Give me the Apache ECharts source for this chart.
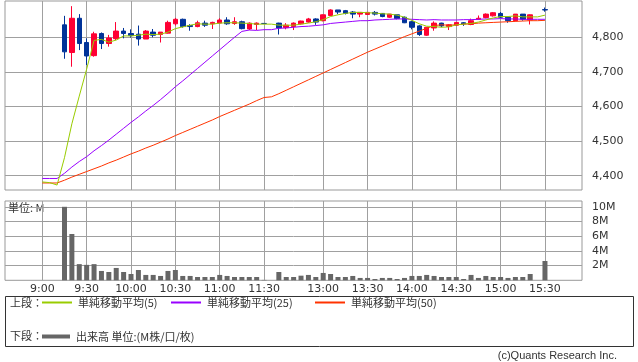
<!DOCTYPE html>
<html><head><meta charset="utf-8">
<script src="https://cdn.jsdelivr.net/npm/echarts@6/dist/echarts.min.js"></script>
<style>html,body{margin:0;padding:0;background:#fff}#c{width:638px;height:362px}</style>
</head><body><div id="c"></div>
<script>
// slot index: 0 = 9:00, 5-minute steps, 31 = lunch gap, 32 = 12:30, 68 = 15:30
const tickIdx = [0, 6, 12, 18, 24, 30, 38, 44, 50, 56, 62, 68];
const tickLabels = ['9:00','9:30','10:00','10:30','11:00','11:30','13:00','13:30','14:00','14:30','15:00','15:30'];
const priceTicks = [4400, 4500, 4600, 4700, 4800];
const volTicks = [2, 4, 6, 8, 10];

const opens = [null,null,null,
 4836,4756,4855,4785,4747,4811,4782,4796,4818,4811,4809,4795,4815,4808,4812,4839,4852,4834,4831,4841,4839,4841,4850,4840,4845,4824,4837,4840,
 null,
 4841,4828,4831,4839,4844,4853,4848,4863,4879,4877,4873,4867,4866,4872,4869,4858,4865,4858,4845,4833,4806,4827,4841,4831,4835,4842,4837,4852,4857,4862,4869,4858,4848,4867,4850,
 null,4880];
const closes = [null,null,null,
 4758,4855,4782,4746,4810,4782,4798,4818,4811,4805,4795,4818,4806,4815,4843,4852,4831,4831,4842,4835,4843,4850,4839,4845,4825,4841,4841,4840,
 null,
 4827,4835,4841,4847,4853,4844,4865,4879,4873,4869,4867,4872,4872,4867,4860,4867,4854,4842,4829,4808,4829,4841,4833,4836,4843,4839,4848,4855,4867,4871,4858,4848,4867,4852,4865,
 null,4879];
const lows = [null,null,null,
 4738,4715,4763,4720,4744,4766,4773,4792,4797,4799,4776,4795,4800,4785,4811,4834,4828,4819,4829,4830,4824,4840,4836,4836,4823,4821,4821,4840,
 null,
 4808,4823,4821,4837,4842,4836,4846,4862,4867,4866,4855,4858,4866,4863,4858,4856,4852,4841,4823,4804,4804,4819,4829,4821,4833,4833,4835,4852,4855,4860,4856,4842,4846,4848,4837,
 null,4874];
const highs = [null,null,null,
 4862,4890,4867,4797,4816,4814,4807,4844,4827,4823,4834,4821,4824,4815,4848,4856,4854,4838,4848,4848,4845,4855,4858,4858,4848,4843,4843,4840,
 null,
 4842,4841,4843,4848,4856,4855,4866,4881,4879,4879,4876,4872,4872,4876,4869,4867,4865,4860,4848,4835,4829,4846,4842,4838,4844,4844,4854,4863,4869,4873,4873,4860,4867,4867,4866,
 null,4886];
const volumes = [null,null,null,
 10.0,6.3,2.2,2.1,2.2,1.27,1.13,1.68,1.13,0.86,1.4,0.73,0.73,0.59,1.27,1.4,0.59,0.59,0.45,0.45,0.45,0.73,0.59,0.45,0.45,0.45,0.45,0.05,
 null,
 1.13,0.45,0.45,0.63,0.73,0.45,1.0,0.86,0.45,0.45,0.59,0.32,0.32,0.18,0.32,0.32,0.18,0.32,0.59,0.59,0.73,0.59,0.45,0.45,0.45,0.18,0.73,0.32,0.59,0.45,0.45,0.32,0.45,0.45,0.86,
 null,2.63];
const ma5 = [4382,4380,4373,
 4452,4550,4630,4708,4791,4794,4786,4792,4804,4804,4806,4809,4808,4809,4815,4825,4830,4835,4839,4838,4838,4841,4842,4842,4841,4840,4838,4838,
 4838,
 4835,4835,4835,4838,4841,4845,4851,4860,4865,4869,4872,4872,4871,4870,4868,4867,4864,4858,4849,4839,4832,4831,4829,4830,4836,4838,4840,4844,4850,4856,4860,4860,4862,4859,4859,
 4859,4864];
const ma25 = [4392,4392,4392,
 4407,4425,4441,4455,4472,4487,4503,4520,4537,4554,4570,4587,4603,4620,4638,4657,4674,4692,4710,4728,4746,4764,4782,4800,4817,4821,4820,4822,
 4822,
 4826,4827,4829,4831,4832,4834,4836,4840,4842,4844,4846,4848,4848,4850,4851,4852,4853,4853,4852,4851,4850,4851,4850,4850,4850,4851,4851,4852,4853,4853,4854,4853,4853,4852,4852,
 4852,4852];
const ma50 = [4379,4379,4379,
 4387,4396,4404,4412,4420,4428,4437,4445,4454,4463,4471,4480,4488,4497,4506,4516,4525,4534,4543,4552,4561,4571,4580,4589,4598,4607,4617,4626,
 4628,
 4637,4647,4657,4667,4677,4687,4697,4707,4717,4727,4737,4747,4757,4766,4775,4784,4793,4802,4810,4818,4826,4834,4836,4835,4836,4838,4839,4841,4842,4843,4844,4845,4846,4847,4848,
 4848,4849];

const names = ['単純移動平均(5)', '単純移動平均(25)', '単純移動平均(50)', '出来高 単位:(M株/口/枚)'];
const colors = ['#99cc00', '#9900ff', '#ff3300', '#666666'];

const candleData = [], volData = [];
for (let i = 0; i < opens.length; i++) {
  if (opens[i] != null) candleData.push([i, opens[i], closes[i], lows[i], highs[i]]);
  if (volumes[i] != null) volData.push([i, volumes[i]]);
}
const lineData = arr => arr.map((v, i) => [i, v]);

const NUM = 'DejaVu Sans';
const JP = 'Noto Sans CJK JP';
const gridCol = '#a0a0a0';
const xMin = -5.046, xMax = 73.01;

const chart = echarts.init(document.getElementById('c'), null, {renderer: 'canvas'});
const xBase = (gi, showLabel) => ({
  type: 'value', gridIndex: gi, min: xMin, max: xMax,
  axisLine: {show: false},
  axisTick: {show: false, customValues: tickIdx},
  axisLabel: {show: showLabel, customValues: tickIdx, margin: 3,
    fontFamily: NUM, fontSize: 11, color: '#333',
    formatter: v => { const k = tickIdx.indexOf(Math.round(v)); return k >= 0 ? tickLabels[k] : ''; }},
  splitLine: {show: true, lineStyle: {color: gridCol, width: 1}}
});
const legendItem = (k, left, top, h) => ({
  data: [{name: names[k], icon: 'rect', itemStyle: {color: colors[k], borderWidth: 0}}],
  left: left, top: top, orient: 'horizontal', padding: 0, itemGap: 0,
  itemWidth: k === 3 ? 28 : 30, itemHeight: h, selectedMode: false,
  itemStyle: {color: colors[k], borderWidth: 0},
  textStyle: {fontFamily: JP, fontSize: 11, color: '#333', padding: [0, 0, 0, 1]}
});

chart.setOption({
  animation: false,
  backgroundColor: '#fff',
  grid: [
    {left: 5, right: 56, top: 1, height: 189, show: true, borderColor: '#999', borderWidth: 1, backgroundColor: 'transparent'},
    {left: 5, right: 56, top: 201, height: 79.3, show: true, borderColor: '#999', borderWidth: 1, backgroundColor: 'transparent'}
  ],
  xAxis: [xBase(0, false), xBase(1, true)],
  yAxis: [
    {type: 'value', gridIndex: 0, position: 'right', min: 4358.7, max: 4904.9,
     axisLine: {show: false},
     axisTick: {show: true, length: 7, customValues: priceTicks, lineStyle: {color: '#999'}},
     axisLabel: {customValues: priceTicks, margin: 10, fontFamily: NUM, fontSize: 11, color: '#333',
       formatter: v => v.toLocaleString('en-US')},
     splitLine: {show: true, lineStyle: {color: gridCol, width: 1}}},
    {type: 'value', gridIndex: 1, position: 'right', min: 0, max: 10.79,
     axisLine: {show: false},
     axisTick: {show: true, length: 7, customValues: volTicks, lineStyle: {color: '#999'}},
     axisLabel: {customValues: volTicks, margin: 10, fontFamily: NUM, fontSize: 11, color: '#333',
       formatter: v => v + 'M'},
     splitLine: {show: true, lineStyle: {color: gridCol, width: 1}}}
  ],
  legend: [
    legendItem(0, 42, 297, 2),
    legendItem(1, 171, 297, 2),
    legendItem(2, 315, 297, 2),
    legendItem(3, 42, 331, 4)
  ],
  series: [
    {type: 'candlestick', name: 'price', xAxisIndex: 0, yAxisIndex: 0, data: candleData,
     encode: {x: 0, y: [1, 2, 3, 4]}, barWidth: 5, z: 2,
     itemStyle: {color: '#ff0033', color0: '#003399', borderColor: '#ff0033', borderColor0: '#003399', borderWidth: 1}},
    {type: 'line', name: names[0], xAxisIndex: 0, yAxisIndex: 0, data: lineData(ma5), symbol: 'none', z: 5,
     lineStyle: {color: colors[0], width: 1}, itemStyle: {color: colors[0]}},
    {type: 'line', name: names[1], xAxisIndex: 0, yAxisIndex: 0, data: lineData(ma25), symbol: 'none', z: 4,
     lineStyle: {color: colors[1], width: 1}, itemStyle: {color: colors[1]}},
    {type: 'line', name: names[2], xAxisIndex: 0, yAxisIndex: 0, data: lineData(ma50), symbol: 'none', z: 3,
     lineStyle: {color: colors[2], width: 1}, itemStyle: {color: colors[2]}},
    {type: 'bar', name: names[3], xAxisIndex: 1, yAxisIndex: 1, data: volData, barWidth: 5,
     itemStyle: {color: colors[3]}}
  ],
  graphic: [
    {type: 'text', left: 8, top: 202, style: {text: '単位: M', font: '11px "Noto Sans CJK JP"', fill: '#333'}},
    {type: 'rect', shape: {x: 5.5, y: 296.5, width: 628, height: 50}, style: {fill: 'none', stroke: '#333', lineWidth: 1}},
    {type: 'text', left: 10, top: 297, style: {text: '上段：', font: '11px "Noto Sans CJK JP"', fill: '#333'}},
    {type: 'text', left: 10, top: 330, style: {text: '下段：', font: '11px "Noto Sans CJK JP"', fill: '#333'}},
    {type: 'text', right: 21, top: 350, style: {text: '(c)Quants Research Inc.', font: '11px "Liberation Sans"', fill: '#333'}}
  ]
});
</script></body></html>
